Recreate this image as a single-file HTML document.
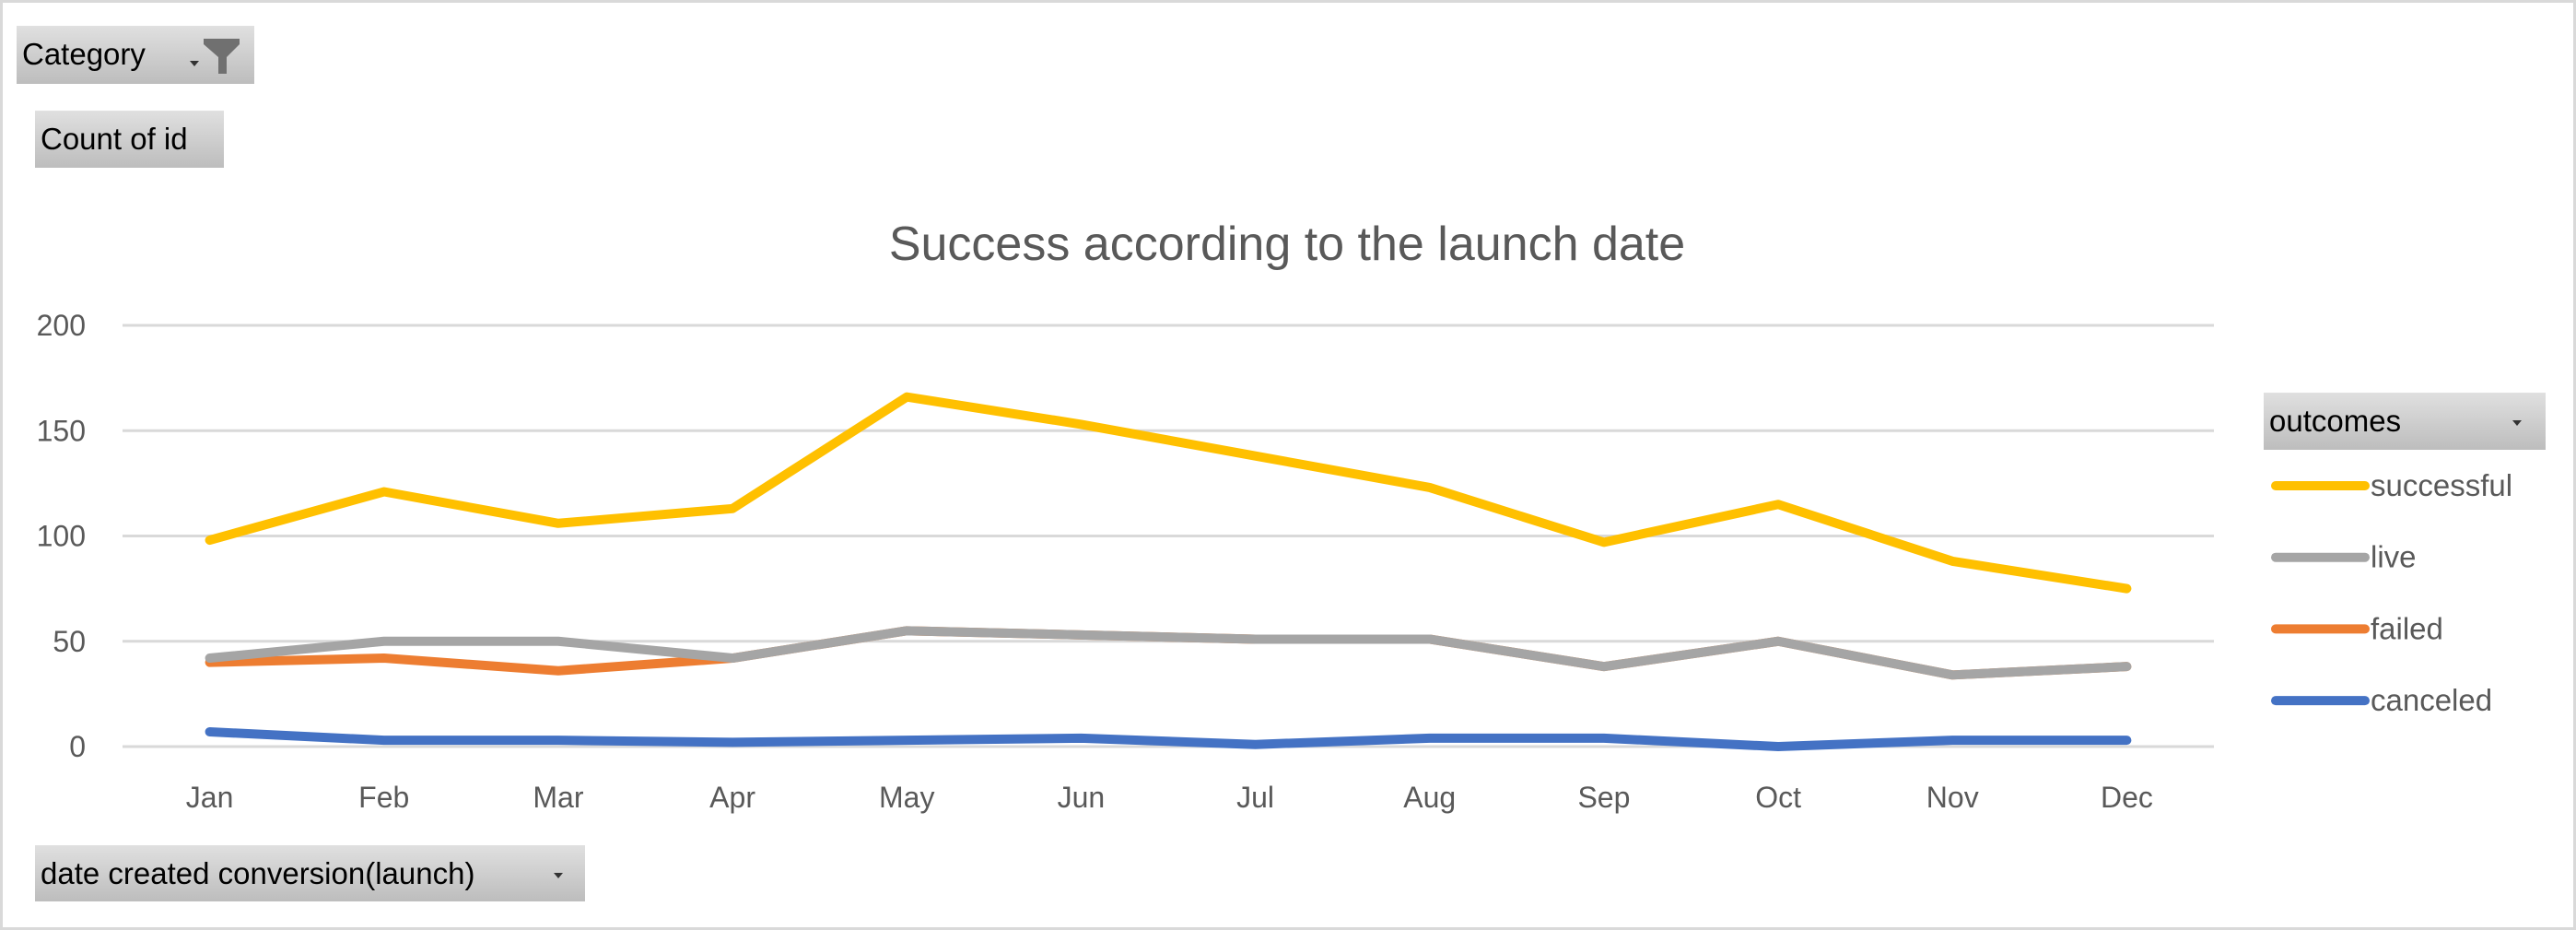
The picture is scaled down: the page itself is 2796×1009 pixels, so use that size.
<!DOCTYPE html>
<html><head><meta charset="utf-8"><style>
body{margin:0;background:#fff;}
#wrap{position:relative;width:2796px;height:1009px;overflow:hidden;background:#fff;font-family:"Liberation Sans",sans-serif;}
.frame{position:absolute;left:0;top:0;width:2790px;height:1003px;border:3px solid #d9d9d9;}
.btn{position:absolute;background:linear-gradient(#e0e0e0,#bdbdbd);color:#000;font-size:33px;line-height:62px;padding-left:6px;box-sizing:border-box;}
.arrow{position:absolute;width:0;height:0;border-left:5px solid transparent;border-right:5px solid transparent;border-top:6px solid #333;}
</style></head><body>
<div id="wrap">
<div class="frame"></div>
<div class="btn" style="left:18px;top:28px;width:258px;height:63px;">Category
 <div class="arrow" style="left:188px;top:38px;"></div>
 <svg style="position:absolute;left:200px;top:12px" width="45" height="42"><path d="M3 2 L42 2 L42 8 L28 22 L28 40 L19 40 L19 22 L3 8 Z" fill="#707070"/></svg>
</div>
<div class="btn" style="left:38px;top:120px;width:205px;height:62px;">Count of id</div>
<div class="btn" style="left:38px;top:917px;width:597px;height:61px;">date created conversion(launch)
 <div class="arrow" style="left:563px;top:30px;"></div>
</div>
<div class="btn" style="left:2457px;top:426px;width:306px;height:62px;">outcomes
 <div class="arrow" style="left:270px;top:30px;"></div>
</div>
<svg id="chart" width="2796" height="1009" style="position:absolute;left:0;top:0"></svg>
</div>
<script>
const months=["Jan","Feb","Mar","Apr","May","Jun","Jul","Aug","Sep","Oct","Nov","Dec"];
const yTicks=[0,50,100,150,200];
const successful=[98,121,106,113,166,153,138,123,97,115,88,75];
const live=[42,50,50,42,55,53,51,51,38,50,34,38];
const failed=[40,42,36,42,55,53,51,51,38,50,34,38];
const canceled=[7,3,3,2,3,4,1,4,4,0,3,3];
const seriesNames=["successful","live","failed","canceled"];

const NS="http://www.w3.org/2000/svg";
const svg=document.getElementById('chart');
const L=133,R=2403,T=353,B=810,ymax=200;
const bw=(R-L)/months.length;
const x=i=>L+bw*(i+0.5);
const y=v=>B-(v/ymax)*(B-T);
function mk(tag,attrs){const e=document.createElementNS(NS,tag);for(const k in attrs)e.setAttribute(k,attrs[k]);svg.appendChild(e);return e;}

const title=mk('text',{x:1397,y:282,'text-anchor':'middle','font-size':52,fill:'#595959','font-family':'Liberation Sans, sans-serif'});
title.textContent='Success according to the launch date';



yTicks.forEach(t=>{
 const g=mk('line',{x1:L,x2:R,y1:y(t),y2:y(t),stroke:'#d9d9d9','stroke-width':3});
 
 
 const lb=mk('text',{x:93,y:y(t)+11,'text-anchor':'end','font-size':32,fill:'#595959','font-family':'Liberation Sans, sans-serif'});
 lb.textContent=t;
 
 
});
months.forEach((m,i)=>{
 const lb=mk('text',{x:x(i),y:876,'text-anchor':'middle','font-size':32,fill:'#595959','font-family':'Liberation Sans, sans-serif'});
 lb.textContent=m;
 
 
});
const colors={successful:'#ffc000',live:'#a5a5a5',failed:'#ed7d31',canceled:'#4472c4'};
const data={successful,live,failed,canceled};
["canceled","failed","live","successful"].forEach(s=>{
 const p=mk('polyline',{points:data[s].map((v,i)=>x(i)+','+y(v)).join(' '),fill:'none',stroke:colors[s],'stroke-width':10,'stroke-linejoin':'round','stroke-linecap':'round'});
 
 
});
seriesNames.forEach((s,i)=>{
 const ly=527+i*77.7;
 const ln=mk('line',{x1:2470,x2:2567,y1:ly,y2:ly,stroke:colors[s],'stroke-width':10,'stroke-linecap':'round'});
 
 
 const t=mk('text',{x:2573,y:ly+11,'font-size':33,fill:'#595959','font-family':'Liberation Sans, sans-serif'});
 t.textContent=s;
 
 
});
</script>
</body></html>
